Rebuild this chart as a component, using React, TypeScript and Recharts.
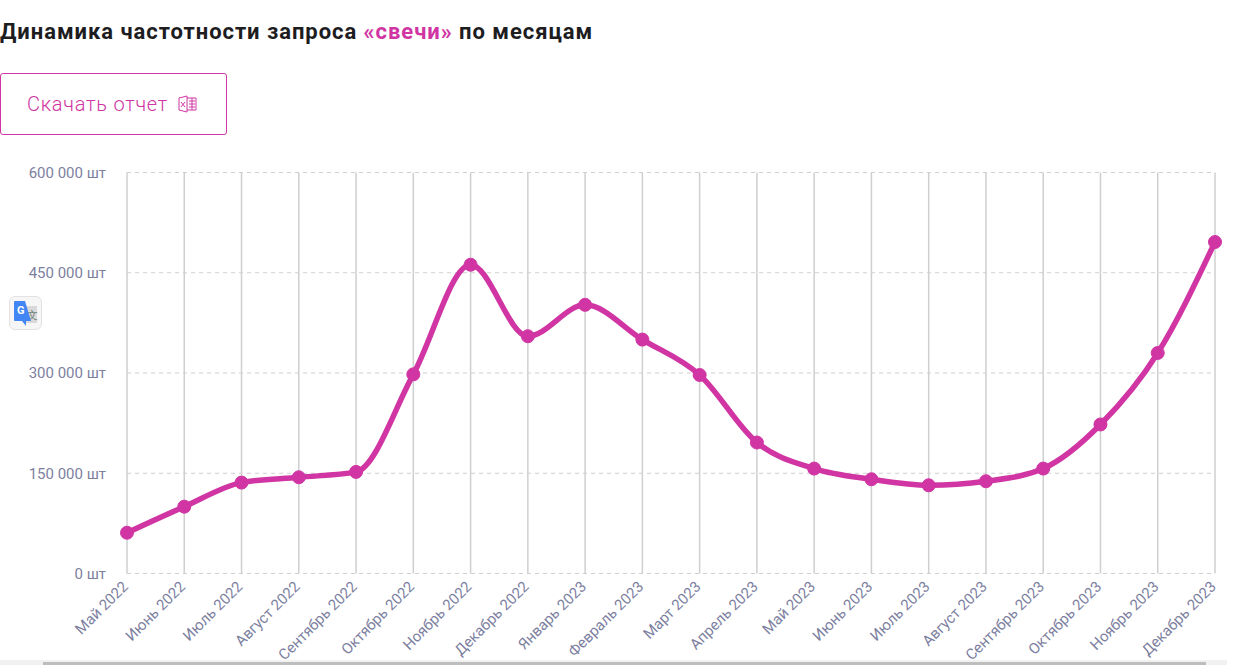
import { CartesianGrid, Line, LineChart, XAxis, YAxis } from "recharts";

const PINK = "#d035a3";
const AXIS = "#7d7f9f";
const GRID = "#cfcfcf";

const months = [
  "Май 2022", "Июнь 2022", "Июль 2022", "Август 2022", "Сентябрь 2022", "Октябрь 2022", "Ноябрь 2022",
  "Декабрь 2022", "Январь 2023", "Февраль 2023", "Март 2023", "Апрель 2023", "Май 2023", "Июнь 2023",
  "Июль 2023", "Август 2023", "Сентябрь 2023", "Октябрь 2023", "Ноябрь 2023", "Декабрь 2023",
];
const frequency = [
  61000, 100000, 136000, 144000, 152000, 298000, 462000, 355000, 402000, 350000,
  297000, 196000, 157000, 141000, 132000, 138000, 157000, 223000, 330000, 496000,
];
const yTicks = [0, 150000, 300000, 450000, 600000];

const data = months.map((month, i) => ({ month, value: frequency[i] }));

const font = "Roboto, sans-serif";

function formatTick(v: number) {
  return `${String(v).replace(/\B(?=(\d{3})+$)/g, " ")} шт`;
}

function MonthTick({ x, y, payload }: any) {
  const tx = x + 2;
  const ty = y + 6;
  return (
    <text x={tx} y={ty} transform={`rotate(-45 ${tx} ${ty})`} textAnchor="end" fontSize={15} fontFamily={font} fill={AXIS}>
      {payload.value}
    </text>
  );
}

function ExcelIcon() {
  return (
    <svg width="20" height="18" viewBox="0 0 20 18" fill="none" stroke={PINK} strokeWidth="1" style={{ position: "absolute", left: 178, top: 95 }}>
      <path d="M1 3 L9 1 V17 L1 15 Z" />
      <path d="M9 3 H18 V15 H9" />
      <path d="M11 6 H17 M11 9 H17 M11 12 H17 M14 3 V15" />
      <path d="M3 7 L7 12 M7 7 L3 12" />
    </svg>
  );
}

function TranslateIcon() {
  return (
    <div style={{ position: "absolute", left: 9, top: 296, width: 33, height: 34, border: "1px solid #e2e2e2", borderRadius: 6, background: "#f6f6f6", boxSizing: "border-box" }}>
      <div style={{ position: "absolute", left: 14, top: 9, width: 13, height: 17, background: "#d9d9d9" }} />
      <div style={{ position: "absolute", left: 17, top: 11, fontFamily: font, fontSize: 11, color: "#6f7f78" }}>文</div>
      <svg width="20" height="26" viewBox="0 0 20 26" style={{ position: "absolute", left: 4, top: 4 }}>
        <path d="M0 1 Q0 0 1 0 H11 L17 20 H12 L12 25 L8 20 H1 Q0 20 0 19 Z" fill="#4285f4" />
      </svg>
      <div style={{ position: "absolute", left: 7, top: 7, fontFamily: font, fontSize: 11, fontWeight: 700, color: "#fff" }}>G</div>
    </div>
  );
}

export default function App() {
  return (
    <div style={{ position: "absolute", left: 0, top: 0, width: 1246, height: 665, overflow: "hidden", background: "#fff", fontFamily: font }}>
      <div style={{ position: "absolute", left: 0, top: 19, fontSize: 22, fontWeight: 700, lineHeight: "25px", letterSpacing: 0.95, color: "#1d1d1f", whiteSpace: "nowrap" }}>
        Динамика частотности запроса <span style={{ color: PINK }}>«свечи»</span> по месяцам
      </div>
      <div style={{ position: "absolute", left: 0, top: 73, width: 227, height: 62, border: `1px solid ${PINK}`, borderRadius: 3, boxSizing: "border-box" }} />
      <div style={{ position: "absolute", left: 27, top: 92, fontSize: 20, fontWeight: 300, lineHeight: "24px", letterSpacing: 0.75, color: PINK, whiteSpace: "nowrap" }}>
        Скачать отчет
      </div>
      <ExcelIcon />
      <TranslateIcon />
      <div style={{ position: "absolute", left: 0, top: 660, width: 1227, height: 5, background: "#f1f1f1" }} />
      <div style={{ position: "absolute", left: 43, top: 662, width: 1163, height: 3, background: "#bdbdbd" }} />
      <div style={{ position: "absolute", left: 0, top: 0 }}>
        <LineChart width={1246} height={665} data={data} margin={{ top: 172.5, right: 31, bottom: 31.5, left: 27 }}>
          <CartesianGrid stroke={GRID} strokeDasharray="4 4" vertical={false} />
          <CartesianGrid stroke={GRID} strokeWidth={1.5} horizontal={false} />
          <XAxis
            dataKey="month"
            interval={0}
            height={60}
            axisLine={false}
            tickLine={false}
            tick={<MonthTick />}
          />
          <YAxis
            width={100}
            domain={[0, 600000]}
            ticks={yTicks}
            tickFormatter={formatTick}
            axisLine={false}
            tickLine={false}
            tickMargin={15}
            tick={{ fontSize: 15, fill: AXIS, fontFamily: font }}
          />
          <Line
            type="monotone"
            dataKey="value"
            stroke={PINK}
            strokeWidth={5.5}
            dot={{ r: 6.5, fill: PINK, stroke: PINK, strokeWidth: 1 }}
            isAnimationActive={false}
          />
        </LineChart>
      </div>
    </div>
  );
}
